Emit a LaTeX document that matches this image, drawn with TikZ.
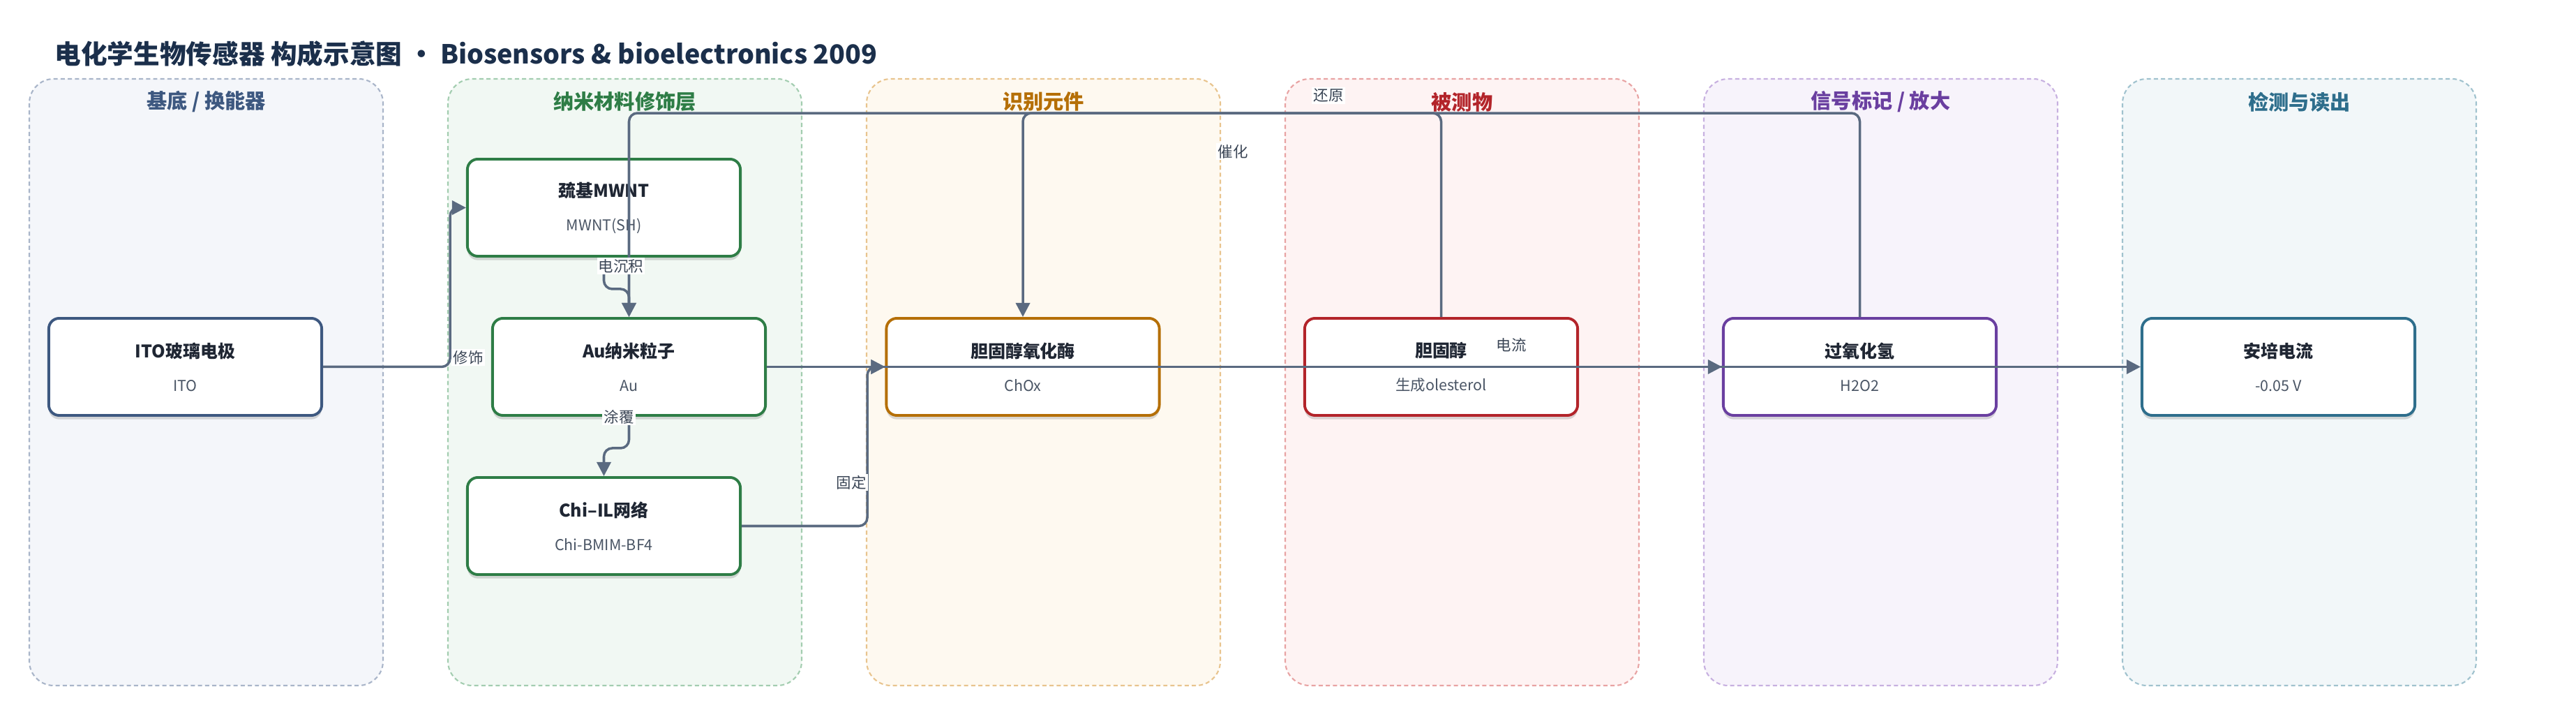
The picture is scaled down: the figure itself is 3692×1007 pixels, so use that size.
\documentclass[tikz,border=0pt]{standalone}
\usepackage{fontspec}
\setmainfont{Noto Sans CJK SC}
\usetikzlibrary{arrows.meta,shadows}

\definecolor{titlec}{HTML}{1B2F4B}
\definecolor{edgec}{HTML}{5A6A80}
\definecolor{txtc}{HTML}{1F2633}
\definecolor{subc}{HTML}{4A5565}
\definecolor{labc}{HTML}{3A4555}
% lanes: fill / dashed border / head + node border
\definecolor{fa}{HTML}{F4F6FA}\definecolor{ba}{HTML}{A9B5C9}\definecolor{ha}{HTML}{3D5880}
\definecolor{fb}{HTML}{F1F8F3}\definecolor{bb}{HTML}{A3CDB0}\definecolor{hb}{HTML}{2E7D46}
\definecolor{fc}{HTML}{FEF9F0}\definecolor{bc}{HTML}{E8C48E}\definecolor{hc}{HTML}{B56F06}
\definecolor{fd}{HTML}{FEF3F3}\definecolor{bd}{HTML}{E8A3A3}\definecolor{hd}{HTML}{B3242A}
\definecolor{fe}{HTML}{F7F3FB}\definecolor{be}{HTML}{C7B0E0}\definecolor{he}{HTML}{6A3FA0}
\definecolor{ff}{HTML}{F2F7F9}\definecolor{bf}{HTML}{A0C2CE}\definecolor{hf}{HTML}{2E6E8C}

\newcommand{\boxtext}[2]{{\fontsize{7.1}{8.5}\selectfont\bfseries #1}\\[1.6pt]{\fontsize{6.1}{7}\selectfont\color{subc}#2}}

\begin{document}
\begin{tikzpicture}[x=0.01cm,y=-0.01cm,
	lane/.style={dashed,dash pattern=on 1.7pt off 1.2pt,line width=0.6pt,rounded corners=0.35cm},
	lanehead/.style={font=\fontsize{8.3}{10}\selectfont\bfseries},
	box/.style={rectangle,rounded corners=0.15cm,fill=white,line width=1.1pt,text=txtc,
		minimum width=3.91cm,minimum height=1.39cm,align=center,
		drop shadow={shadow xshift=0pt,shadow yshift=-1.6pt,opacity=0.14,fill=black}},
	link/.style={draw=edgec,line width=1pt,rounded corners=0.12cm,-{Triangle[length=5.7pt,width=5.7pt]}},
	lbl/.style={fill=white,inner sep=0.6pt,text=labc,font=\fontsize{6.1}{7}\selectfont}]
	%	\draw[color=gray,dash pattern=on 1pt off 1pt,step=100] (0,0) grid (3692,1007);
	\useasboundingbox (0,0) rectangle (3692,1007);
	\node[anchor=west,inner sep=0pt,text=titlec,font=\fontsize{10.7}{13}\selectfont\bfseries] (title) at (78,77)
		{电化学生物传感器 构成示意图 • Biosensors \& bioelectronics 2009};
	% lanes
	\foreach \i/\f/\b/\h/\name in {0/fa/ba/ha/{基底 / 换能器},1/fb/bb/hb/{纳米材料修饰层},2/fc/bc/hc/{识别元件},
		3/fd/bd/hd/{被测物},4/fe/be/he/{信号标记 / 放大},5/ff/bf/hf/{检测与读出}}{
		\draw[lane,fill=\f,draw=\b] (42+600*\i,113) rectangle ++(507,869);
		\node[lanehead,text=\h] (head\i) at (295.5+600*\i,146) {\name};
	}
	% components
	\node[box,draw=ha] (ito) at (265.5,525.5) {\boxtext{ITO玻璃电极}{ITO}};
	\node[box,draw=hb] (mwnt) at (865.5,297.5) {\boxtext{巯基MWNT}{MWNT(SH)}};
	\node[box,draw=hb] (au) at (901.5,525.5) {\boxtext{Au纳米粒子}{Au}};
	\node[box,draw=hb] (chi) at (865.5,753.5) {\boxtext{Chi–IL网络}{Chi-BMIM-BF4}};
	\node[box,draw=hc] (chox) at (1466,525.5) {\boxtext{胆固醇氧化酶}{ChOx}};
	\node[box,draw=hd] (chol) at (2065.5,525.5) {\boxtext{胆固醇}{生成olesterol}};
	\node[box,draw=he] (hoo) at (2665.5,525.5) {\boxtext{过氧化氢}{H2O2}};
	\node[box,draw=hf] (amp) at (3265.5,525.5) {\boxtext{安培电流}{-0.05 V}};
	% connectors
	\draw[link] (ito.east) -- ++(182,0) |- (mwnt.west);
	\draw[link] (mwnt.south) -- ++(0,45) -| (au.north);
	\draw[link] (au.south) -- ++(0,45) -| (chi.north);
	\draw[link] (au.east) -- (chox.west);
	\draw[link] (chi.east) -- ++(180,0) |- (chox.west);
	\draw[link] (chol.north) -- ++(0,-292) -| (chox.north);
	\draw[link] (hoo.north) -- ++(0,-292) -| (au.north);
	\draw[link] (chox.east) -- (hoo.west);
	\draw[link] (au.east) -- (amp.west);
	% labels
	\node[lbl] (lmod) at (671,512) {修饰};
	\node[lbl] (ldep) at (890,381) {电沉积};
	\node[lbl] (lcoat) at (887,597) {涂覆};
	\node[lbl] (lfix) at (1220,691) {固定};
	\node[lbl] (lcat) at (1767,217) {催化};
	\node[lbl] (lred) at (1904,137) {还原};
	\node[lbl] (lcur) at (2166,494) {电流};
\end{tikzpicture}
\end{document}
